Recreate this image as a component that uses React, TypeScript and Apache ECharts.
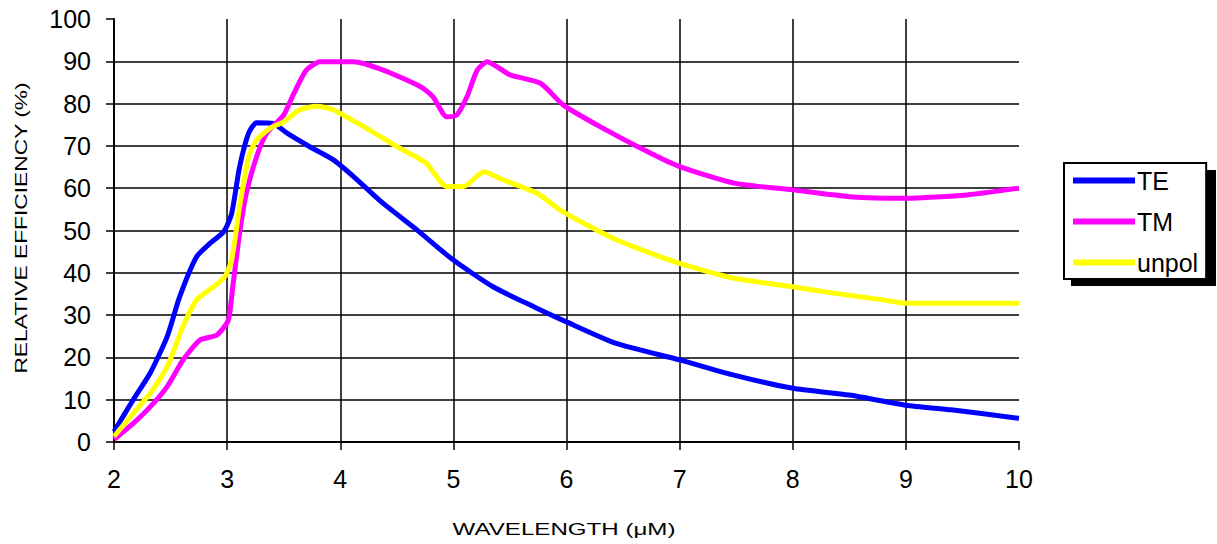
import React, { useEffect, useRef } from "react";
import * as echarts from "echarts";

// Wavelength samples (µm) and relative efficiency (%) for each polarisation
const teX = [2.0, 2.17, 2.32, 2.47, 2.58, 2.73, 2.85, 2.97, 3.04, 3.11, 3.19, 3.26, 3.41, 3.53, 3.73, 3.94, 4.12, 4.38, 4.68, 5.0, 5.35, 5.71, 6.0, 6.44, 7.0, 7.48, 8.0, 8.5, 9.0, 9.4, 10.0];
const teY = [2.5, 10, 16.3, 24.9, 34.3, 43.8, 47, 49.7, 54, 65, 73, 75.5, 75.3, 73, 69.8, 66.7, 62.7, 56.4, 50.1, 43, 36.7, 32, 28.4, 23.3, 19.4, 15.8, 12.7, 11.1, 8.7, 7.6, 5.6];

const tmX = [2.0, 2.17, 2.32, 2.47, 2.61, 2.76, 2.91, 3.01, 3.05, 3.11, 3.17, 3.26, 3.35, 3.5, 3.59, 3.7, 3.82, 4.12, 4.38, 4.71, 4.82, 4.94, 5.03, 5.12, 5.21, 5.3, 5.41, 5.5, 5.77, 5.97, 6.3, 6.74, 7.0, 7.48, 8.0, 8.5, 9.0, 9.54, 10.0];
const tmY = [0.6, 4.4, 8.3, 13.1, 19.4, 24.1, 25.3, 28.8, 36.7, 49.3, 58.8, 67.4, 73, 77.3, 82.4, 87.9, 89.9, 89.9, 87.9, 84, 81.6, 76.9, 77.3, 81.6, 87.9, 89.9, 88.3, 86.8, 84.8, 79.7, 74.5, 68.3, 65.1, 61.2, 59.6, 58, 57.6, 58.4, 60];

const unpolX = [2.0, 2.17, 2.32, 2.47, 2.61, 2.73, 2.88, 2.98, 3.04, 3.11, 3.19, 3.26, 3.38, 3.5, 3.64, 3.79, 3.94, 4.23, 4.53, 4.76, 4.94, 5.09, 5.27, 5.41, 5.74, 5.97, 6.44, 7.0, 7.48, 8.0, 8.36, 8.8, 9.0, 10.0];
const unpolY = [1.3, 6.8, 11.5, 17.8, 27.3, 33.6, 36.7, 39.1, 43, 55.6, 67.4, 71.4, 74.2, 75.7, 78.5, 79.4, 78.5, 74.2, 69.4, 65.9, 60.4, 60.4, 63.9, 62.3, 58.8, 54.4, 47.8, 42.2, 38.7, 36.7, 35.2, 33.6, 32.8, 32.8];

const seriesNames = ["TE", "TM", "unpol"];
const seriesColors = ["#0000ff", "#ff00ff", "#ffff00"];

const xAxisTitle = "WAVELENGTH (μM)";
const yAxisTitle = "RELATIVE EFFICIENCY (%)";

const FONT = '"Liberation Sans", Arial, sans-serif';

const zip = (xs: number[], ys: number[]) => xs.map((x, i) => [x, ys[i]]);

export default function App() {
  const ref = useRef<HTMLDivElement>(null);

  useEffect(() => {
    if (!ref.current) return;
    const chart = echarts.init(ref.current, undefined, { renderer: "svg" });

    const datasets = [zip(teX, teY), zip(tmX, tmY), zip(unpolX, unpolY)];

    chart.setOption({
      animation: false,
      backgroundColor: "#ffffff",
      grid: { left: 114, top: 19, right: 198, bottom: 102, containLabel: false },
      xAxis: {
        type: "value",
        min: 2,
        max: 10,
        interval: 1,
        axisLine: { show: true, onZero: false, lineStyle: { color: "#000", width: 2 } },
        axisTick: { show: true, inside: false, length: 8, lineStyle: { color: "#000", width: 1.5 } },
        axisLabel: { color: "#000", fontSize: 25, fontFamily: FONT, margin: 24 },
        splitLine: { show: true, showMinLine: false, showMaxLine: false, lineStyle: { color: "#000", width: 1.5 } },
      },
      yAxis: {
        type: "value",
        min: 0,
        max: 100,
        interval: 10,
        axisLine: { show: true, lineStyle: { color: "#000", width: 2 } },
        axisTick: { show: true, inside: false, length: 8, lineStyle: { color: "#000", width: 1.5 } },
        axisLabel: { color: "#000", fontSize: 25, fontFamily: FONT, margin: 23 },
        splitLine: { show: true, showMinLine: false, showMaxLine: false, lineStyle: { color: "#000", width: 1.5 } },
      },
      legend: {
        orient: "vertical",
        left: 1064,
        top: 163,
        data: seriesNames,
        icon: "rect",
        itemWidth: 62,
        itemHeight: 6,
        itemGap: 16,
        padding: [5, 8, 4, 9],
        backgroundColor: "#ffffff",
        borderColor: "#000",
        borderWidth: 2,
        borderRadius: 0,
        z: 10,
        textStyle: { color: "#000", fontSize: 25, fontFamily: FONT, padding: [0, 0, 0, -3] },
      },
      graphic: [
        {
          type: "rect",
          z: 1,
          left: 1071,
          top: 170,
          shape: { width: 145, height: 116 },
          style: { fill: "#000" },
        },
        {
          type: "text",
          x: 564,
          y: 529,
          scaleX: 1.42,
          style: {
            text: xAxisTitle,
            fill: "#000",
            font: `17px ${FONT}`,
            align: "center",
            verticalAlign: "middle",
            textAlign: "center",
            textVerticalAlign: "middle",
          },
        },
        {
          type: "text",
          x: 21,
          y: 228,
          rotation: Math.PI / 2,
          scaleX: 1.34,
          style: {
            text: yAxisTitle,
            fill: "#000",
            font: `17px ${FONT}`,
            align: "center",
            verticalAlign: "middle",
            textAlign: "center",
            textVerticalAlign: "middle",
          },
        },
      ],
      series: seriesNames.map((name, i) => ({
        name,
        type: "line",
        data: datasets[i],
        showSymbol: false,
        symbol: "none",
        smooth: 0.2,
        clip: true,
        itemStyle: { color: seriesColors[i] },
        lineStyle: { color: seriesColors[i], width: 5 },
      })),
    });

    return () => chart.dispose();
  }, []);

  return (
    <div
      ref={ref}
      style={{ position: "absolute", left: 0, top: 0, width: 1217, height: 544 }}
    />
  );
}
